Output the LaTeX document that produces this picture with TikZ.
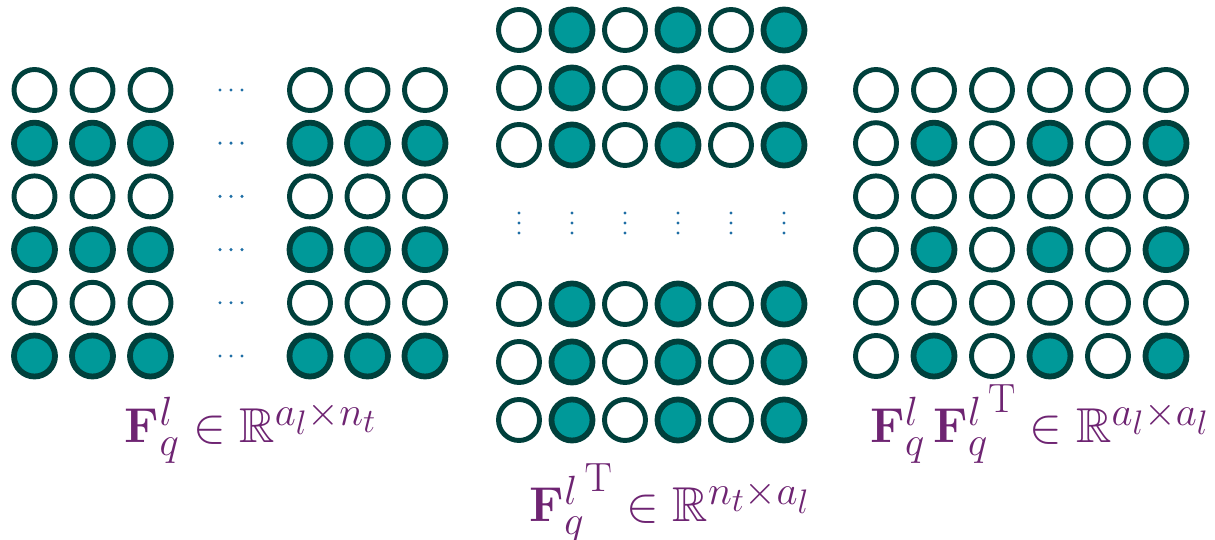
\documentclass[tikz,border=0pt]{standalone}
\usepackage{amsmath}
\usepackage{amssymb}
\usepackage{xcolor}
\definecolor{ringc}{RGB}{0,64,60}
\definecolor{tealc}{RGB}{0,153,153}
\definecolor{dotc}{RGB}{30,110,165}
\definecolor{labc}{RGB}{110,36,114}

\begin{document}
\begin{tikzpicture}[x=0.02cm, y=-0.02cm]
\tikzset{
  ocell/.style={circle, draw=ringc, fill=white, line width=2.8pt, minimum size=0.82cm, inner sep=0pt},
  fcell/.style={ocell, fill=tealc, line width=3.3pt},
  lbl/.style={text=labc, font=\Huge, inner sep=0pt, anchor=base, scale=1.12},
}
\useasboundingbox (0,0) rectangle (1215,540);
% F: rows alternate empty / filled, columns cut by dots
\foreach \r in {1,...,6} {
  \pgfmathsetmacro{\yy}{90+53.2*(\r-1)}
  \foreach \c/\xx in {1/34.5, 2/92.5, 3/150.5, 4/310, 5/367.5, 6/425} {
    \ifodd\r\relax
      \node[ocell] (f-\r-\c) at (\xx,\yy) {};
    \else
      \node[fcell] (f-\r-\c) at (\xx,\yy) {};
    \fi
  }
  \foreach \xx in {220,231,242} \fill[dotc] (\xx,\yy) circle[radius=1.7];
}
% F transposed: columns alternate, rows cut by dots
\foreach \r/\yy in {1/30, 2/88, 3/145, 4/304, 5/362, 6/420} {
  \foreach \c in {1,...,6} {
    \pgfmathsetmacro{\xx}{519+53*(\c-1)}
    \ifodd\c\relax
      \node[ocell] (ft-\r-\c) at (\xx,\yy) {};
    \else
      \node[fcell] (ft-\r-\c) at (\xx,\yy) {};
    \fi
  }
}
\foreach \c in {1,...,6} {
  \pgfmathsetmacro{\xx}{519+53*(\c-1)}
  \foreach \yy in {213,223,233} \fill[dotc] (\xx,\yy) circle[radius=1.7];
}
% F F transposed
\foreach \r in {1,...,6} {
  \pgfmathsetmacro{\yy}{90+53.2*(\r-1)}
  \foreach \c in {1,...,6} {
    \pgfmathsetmacro{\xx}{876+58*(\c-1)}
    \pgfmathtruncatemacro{\both}{mod(\r,2)+mod(\c,2)}
    \ifnum\both=0
      \node[fcell] (ff-\r-\c) at (\xx,\yy) {};
    \else
      \node[ocell] (ff-\r-\c) at (\xx,\yy) {};
    \fi
  }
}
% labels
\node[lbl] (lblF) at (251,443) {$\mathbf{F}_q^l \in \mathbb{R}^{a_l \times n_t}$};
\node[lbl] (lblFT) at (670,522) {${\mathbf{F}_q^l}^{\mathrm{T}} \in \mathbb{R}^{n_t \times a_l}$};
\node[lbl] (lblFFT) at (1040,443) {$\mathbf{F}_q^l\,{\mathbf{F}_q^l}^{\mathrm{T}} \in \mathbb{R}^{a_l \times a_l}$};
\end{tikzpicture}
\end{document}
